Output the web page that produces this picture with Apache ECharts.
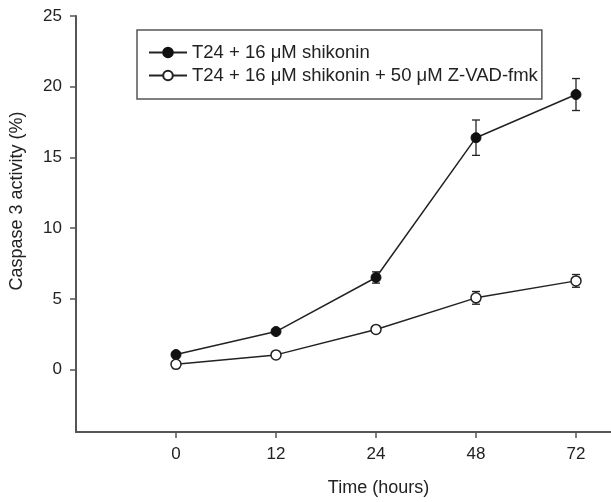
<!DOCTYPE html>
<html>
<head>
<meta charset="utf-8">
<script src="https://cdn.jsdelivr.net/npm/echarts@6/dist/echarts.min.js"></script>
<style>
html,body{margin:0;padding:0;background:#fff;}
#main{width:611px;height:502px;}
</style>
</head>
<body>
<div id="main"></div>
<script>
// time points (hours), drawn as evenly spaced categories
var timeLabels = ['0', '12', '24', '48', '72'];
var timeIndex = [0, 1, 2, 3, 4];
var yTicks = [0, 5, 10, 15, 20, 25];

var seriesNames = ['T24 + 16 \u03bcM shikonin', 'T24 + 16 \u03bcM shikonin + 50 \u03bcM Z-VAD-fmk'];
var shikonin = [1.07, 2.7, 6.52, 16.4, 19.45];
var shikoninErr = [0.2, 0.2, 0.4, 1.25, 1.13];
var zvad = [0.38, 1.05, 2.85, 5.08, 6.28];
var zvadErr = [0.15, 0.15, 0.2, 0.45, 0.45];

function pairs(vals){
	var out = [];
	for(var i=0;i<vals.length;i++){
		out.push([timeIndex[i], vals[i]]);
	}
	return out;
}
function errPairs(vals, errs){
	var out = [];
	for(var i=0;i<vals.length;i++){
		out.push([timeIndex[i], vals[i]-errs[i], vals[i]+errs[i]]);
	}
	return out;
}
function renderErr(params, api){
	var lo = api.coord([api.value(0), api.value(1)]);
	var hi = api.coord([api.value(0), api.value(2)]);
	var w = 4;
	var st = {stroke:'#222', lineWidth:1.3};
	return {
		type:'group',
		children:[
			{type:'line', shape:{x1:lo[0],y1:lo[1],x2:hi[0],y2:hi[1]}, style:st},
			{type:'line', shape:{x1:lo[0]-w,y1:lo[1],x2:lo[0]+w,y2:lo[1]}, style:st},
			{type:'line', shape:{x1:hi[0]-w,y1:hi[1],x2:hi[0]+w,y2:hi[1]}, style:st}
		]
	};
}

var myChart = echarts.init(document.getElementById('main'));
var font = 'Liberation Sans, Arial, sans-serif';
var option = {
	backgroundColor:'#fff',
	animation:false,
	textStyle:{fontFamily:font, color:'#222'},
	grid:{left:76, top:16, right:0, bottom:66},
	legend:{
		orient:'vertical',
		left:137,
		top:30,
		padding:[13,4,14,11],
		itemWidth:38,
		itemHeight:12,
		itemGap:4,
		borderColor:'#555',
		borderWidth:1.5,
		textStyle:{fontSize:18.5, lineHeight:18, color:'#222', fontFamily:font},
		data:seriesNames
	},
	xAxis:{
		type:'value',
		min:-1,
		max:4.35,
		name:'Time (hours)',
		nameLocation:'middle',
		nameGap:47,
		nameTextStyle:{fontSize:18, color:'#222', padding:[0,0,0,70]},
		splitLine:{show:false},
		axisLine:{onZero:false, lineStyle:{color:'#555', width:2}},
		axisTick:{customValues:timeIndex, length:6, lineStyle:{color:'#555', width:1.5}},
		axisLabel:{customValues:timeIndex, margin:14, fontSize:17, color:'#222',
			formatter:function(v){ return timeLabels[v]; }}
	},
	yAxis:{
		type:'value',
		min:-4.4,
		max:25,
		name:'Caspase 3 activity (%)',
		nameLocation:'middle',
		nameGap:50,
		nameTextStyle:{fontSize:18, color:'#222', padding:[0,0,0,46]},
		splitLine:{show:false},
		axisLine:{show:true, onZero:false, lineStyle:{color:'#555', width:2}},
		axisTick:{show:true, customValues:yTicks, length:6, lineStyle:{color:'#555', width:1.5}},
		axisLabel:{customValues:yTicks, margin:14, fontSize:17, color:'#222'}
	},
	series:[
		{
			type:'custom',
			renderItem:renderErr,
			data:errPairs(shikonin, shikoninErr),
			z:1,
			silent:true
		},
		{
			type:'custom',
			renderItem:renderErr,
			data:errPairs(zvad, zvadErr),
			z:1,
			silent:true
		},
		{
			name:seriesNames[0],
			type:'line',
			data:pairs(shikonin),
			symbol:'circle',
			symbolSize:10,
			z:3,
			lineStyle:{color:'#222', width:1.5},
			itemStyle:{color:'#111', borderColor:'#111', borderWidth:1}
		},
		{
			name:seriesNames[1],
			type:'line',
			data:pairs(zvad),
			symbol:'circle',
			symbolSize:10,
			showSymbol:true,
			z:3,
			lineStyle:{color:'#222', width:1.5},
			itemStyle:{color:'#fff', borderColor:'#222', borderWidth:1.5}
		}
	]
};
myChart.setOption(option);
</script>
</body>
</html>
